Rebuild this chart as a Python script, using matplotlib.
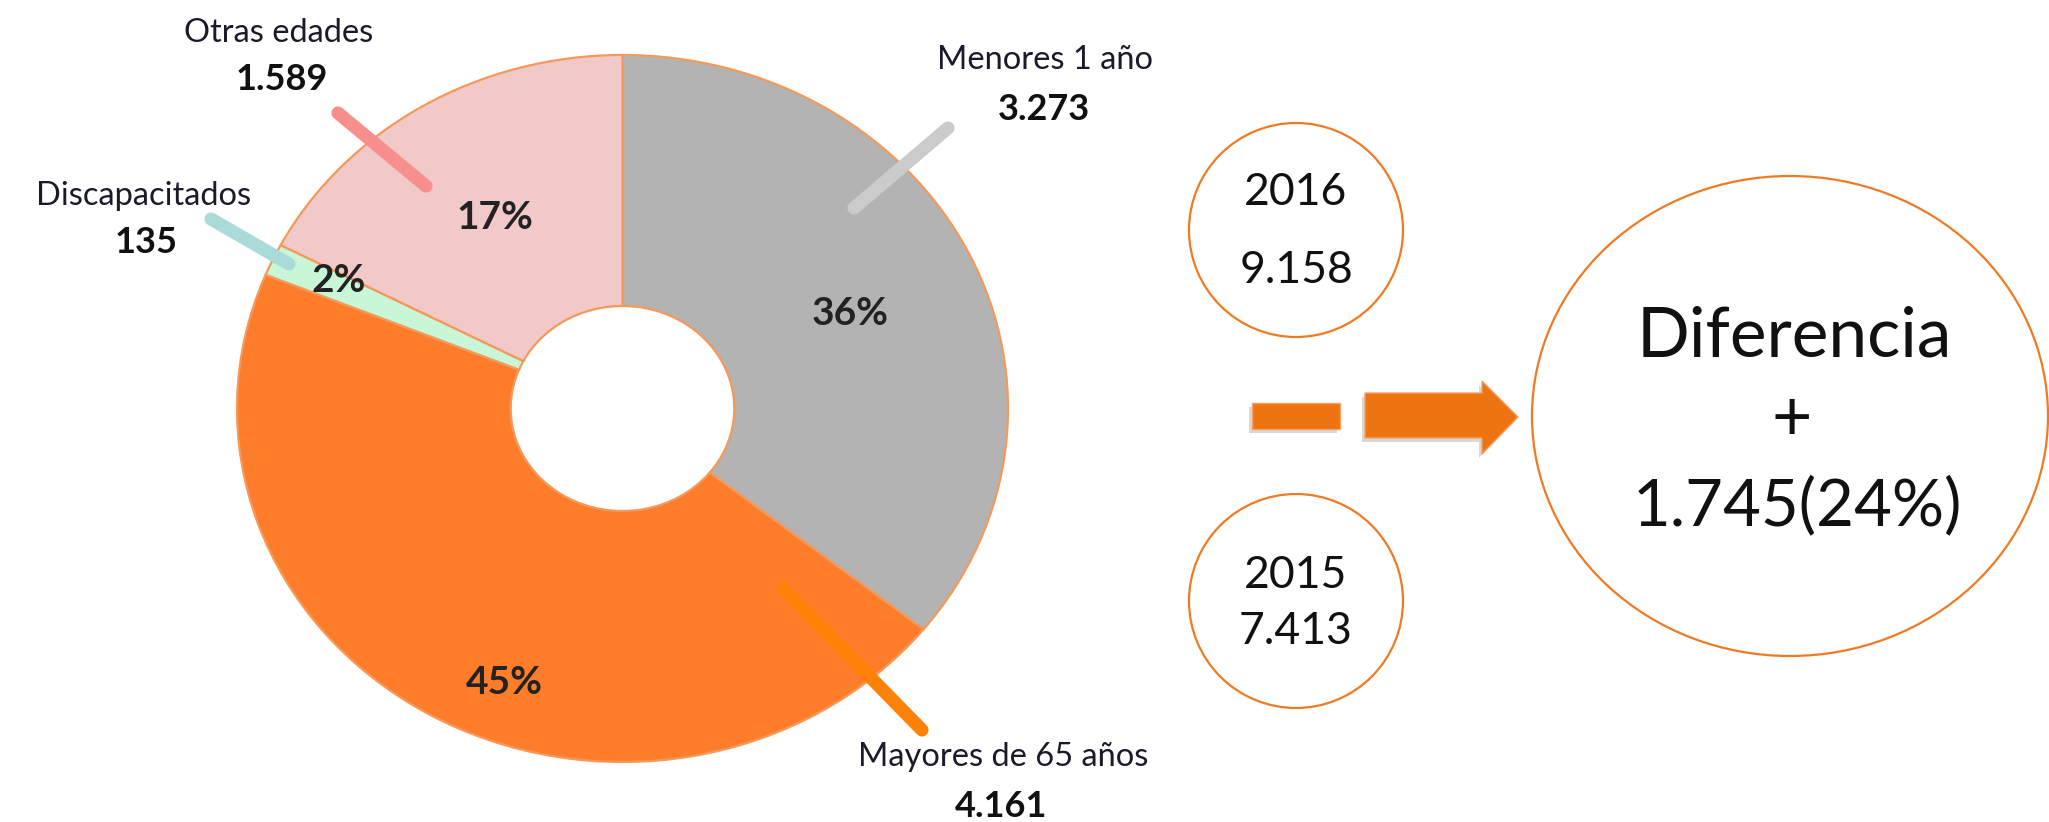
import matplotlib
matplotlib.use("Agg")
import matplotlib.pyplot as plt
from matplotlib.patches import Ellipse, Polygon, Rectangle

# ---------------- data ----------------
categories = ["Menores 1 año", "Mayores de 65 años", "Discapacitados", "Otras edades"]
values = [3273, 4161, 135, 1589]
value_labels = ["3.273", "4.161", "135", "1.589"]
pct_labels = ["36%", "45%", "2%", "17%"]
year_labels = ["2016", "2015"]
year_totals = ["9.158", "7.413"]
diff_title = "Diferencia"
diff_sign = "+"
diff_value = "1.745(24%)"

# ---------------- style ----------------
W, H = 2049, 822
wedge_colors = ["#B3B3B3", "#FD7D2A", "#C9F6D7", "#F1C9C8"]
leader_colors = ["#CBCBCB", "#FF8208", "#A9DCD8", "#F7908C"]
edge_col = "#F5995A"
ring_col = "#F07A22"
arrow_col = "#EE7412"
FONT = "Lato"

fig = plt.figure(figsize=(W / 100, H / 100), dpi=100)
fig.patch.set_facecolor("white")

# donut axes (slightly squashed ellipse like the reference)
ox0, ox1, oy0, oy1 = 237, 1008, 55, 762
axp = fig.add_axes([ox0 / W, 1 - oy1 / H, (ox1 - ox0) / W, (oy1 - oy0) / H])
wedges, _ = axp.pie(values, colors=wedge_colors, startangle=90, counterclock=False,
                    radius=1.0,
                    wedgeprops=dict(width=0.71, edgecolor=edge_col, linewidth=1.6))
axp.set_aspect("auto")
axp.set_xlim(-1, 1)
axp.set_ylim(-1, 1)
axp.axis("off")

# overlay axes in pixel coordinates
ax = fig.add_axes([0, 0, 1, 1], zorder=5)
ax.set_xlim(0, W)
ax.set_ylim(H, 0)
ax.axis("off")
ax.patch.set_alpha(0)

# percentage labels inside wedges
pct_pos = [(850, 313), (504, 682), (339, 280), (495, 217)]
for (x, y), t in zip(pct_pos, pct_labels):
    ax.text(x, y, t, ha="center", va="center", fontsize=28, fontweight="bold",
            family=FONT, color="#222222", zorder=6)

# leader lines (start in wedge -> toward label)
leaders = [((854, 208), (948, 128)),
           ((783, 588), (922, 730)),
           ((289, 264), (211, 219)),
           ((426, 186), (338, 113))]
for (p0, p1), c in zip(leaders, leader_colors):
    ax.plot([p0[0], p1[0]], [p0[1], p1[1]], color=c, lw=9.5,
            solid_capstyle="round", zorder=7)

# category names and values
name_pos = [(1045, 60), (1003, 757), (144, 196), (279, 33)]
val_pos = [(1044, 110), (1001, 806), (146, 242), (282, 80)]
for (nx, ny), (vx, vy), n, v in zip(name_pos, val_pos, categories, value_labels):
    ax.text(nx, ny, n, ha="center", va="center", fontsize=23.5, family=FONT,
            color="#1a1a2a", zorder=8)
    ax.text(vx, vy, v, ha="center", va="center", fontsize=26, fontweight="bold",
            family=FONT, color="#111111", zorder=8)

# year circles
year_circles = [(1296, 230), (1296, 601)]
year_text_y = [(192, 270), (575, 631)]
for (cx, cy), (ty1, ty2), yl, yt in zip(year_circles, year_text_y, year_labels, year_totals):
    ax.add_patch(Ellipse((cx, cy), 214, 214, facecolor="white", edgecolor=ring_col,
                         lw=1.6, zorder=2))
    ax.text(cx, ty1, yl, ha="center", va="center", fontsize=32, family=FONT,
            color="#111111", zorder=3)
    ax.text(cx, ty2, yt, ha="center", va="center", fontsize=32, family=FONT,
            color="#111111", zorder=3)

# minus sign + arrow (with soft shadow)
sh = 4
ax.add_patch(Rectangle((1252 - sh + 1, 403 + sh), 88, 26, facecolor="#D8D8D8",
                       edgecolor="none", zorder=2))
ax.add_patch(Rectangle((1252, 403), 88, 26, facecolor=arrow_col, edgecolor="#F5A060",
                       lw=1, zorder=3))
arrow_pts = [(1365, 393), (1482, 393), (1482, 381), (1518, 417), (1482, 454),
             (1482, 438), (1365, 438)]
ax.add_patch(Polygon([(x - sh + 1, y + sh) for x, y in arrow_pts], closed=True,
                     facecolor="#D8D8D8", edgecolor="none", zorder=2))
ax.add_patch(Polygon(arrow_pts, closed=True, facecolor=arrow_col, edgecolor="#F5A060",
                     lw=1, zorder=3))

# difference circle
ax.add_patch(Ellipse((1790, 416), 516, 480, facecolor="white", edgecolor=ring_col,
                     lw=1.6, zorder=2))
ax.text(1794, 337, diff_title, ha="center", va="center", fontsize=50, family=FONT,
        color="#111111", zorder=3)
ax.text(1792, 420, diff_sign, ha="center", va="center", fontsize=50, family=FONT,
        color="#111111", zorder=3)
ax.text(1797, 506, diff_value, ha="center", va="center", fontsize=47, family=FONT,
        color="#111111", zorder=3)

fig.savefig("out.png", dpi=100, facecolor="white")
